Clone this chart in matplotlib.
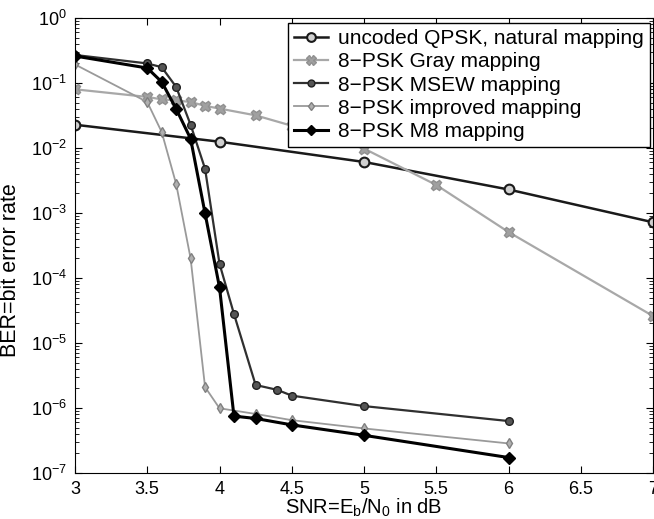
import numpy as np
import matplotlib
matplotlib.use("Agg")
import matplotlib.pyplot as plt
from matplotlib.ticker import LogLocator, NullFormatter, MultipleLocator, FormatStrFormatter

plt.rcParams["font.family"] = ["Liberation Sans", "DejaVu Sans"]
plt.rcParams["mathtext.fontset"] = "custom"
plt.rcParams["mathtext.rm"] = "Liberation Sans"
plt.rcParams["mathtext.it"] = "Liberation Sans:italic"

# SNR values (dB) and BER
snr_qpsk = [3, 4, 5, 6, 7]
ber_qpsk = [0.0228, 0.0125, 0.0061, 0.0023, 7.2e-4]

snr_gray = [3, 3.5, 3.6, 3.7, 3.8, 3.9, 4.0, 4.25, 4.5, 5, 5.5, 6, 7]
ber_gray = [0.080, 0.061, 0.056, 0.054, 0.051, 0.0445, 0.0404, 0.0318, 0.022,
            0.0098, 2.7e-3, 5.1e-4, 2.6e-5]

snr_msew = [3, 3.5, 3.6, 3.7, 3.8, 3.9, 4.0, 4.1, 4.25, 4.4, 4.5, 5, 6]
ber_msew = [0.27, 0.20, 0.175, 0.087, 0.0228, 4.8e-3, 1.66e-4, 2.8e-5,
            2.26e-6, 1.9e-6, 1.55e-6, 1.07e-6, 6.3e-7]

snr_impr = [3, 3.5, 3.6, 3.7, 3.8, 3.9, 4.0, 4.25, 4.5, 5, 6]
ber_impr = [0.193, 0.051, 0.0176, 2.8e-3, 2.0e-4, 2.1e-6, 9.9e-7, 8.1e-7,
            6.5e-7, 4.85e-7, 2.85e-7]

snr_m8 = [3, 3.5, 3.6, 3.7, 3.8, 3.9, 4.0, 4.1, 4.25, 4.5, 5, 6]
ber_m8 = [0.26, 0.17, 0.104, 0.040, 0.0139, 9.9e-4, 7.2e-5, 7.5e-7, 6.9e-7,
          5.5e-7, 3.8e-7, 1.73e-7]

fig = plt.figure(figsize=(6.54, 5.19), dpi=100)
ax = fig.add_axes([75 / 654, 1 - 473 / 519, 578 / 654, 455 / 519])

ax.semilogy(snr_qpsk, ber_qpsk, color="#1a1a1a", lw=1.8, marker="o", ms=7,
            mfc="#d0d0d0", mec="#1a1a1a", mew=1.5, label="uncoded QPSK, natural mapping")
ax.semilogy(snr_gray, ber_gray, color="#a8a8a8", lw=1.6, marker="X", ms=7.5,
            mfc="#a0a0a0", mec="#909090", label="8\u2212PSK Gray mapping")
ax.semilogy(snr_msew, ber_msew, color="#303030", lw=1.6, marker="o", ms=5.5,
            mfc="#555555", mec="#202020", label="8\u2212PSK MSEW mapping")
ax.semilogy(snr_impr, ber_impr, color="#9a9a9a", lw=1.3, marker="d", ms=5,
            mfc="#b0b0b0", mec="#808080", label="8\u2212PSK improved mapping")
ax.semilogy(snr_m8, ber_m8, color="black", lw=2.2, marker="D", ms=6,
            mfc="black", mec="black", label="8\u2212PSK M8 mapping")

ax.set_xlim(3, 7)
ax.set_ylim(1e-7, 1)
ax.xaxis.set_major_locator(MultipleLocator(0.5))
ax.xaxis.set_major_formatter(FormatStrFormatter("%g"))
ax.yaxis.set_major_locator(LogLocator(base=10, numticks=20))
ax.yaxis.set_minor_locator(LogLocator(base=10, subs=np.arange(2, 10), numticks=100))
ax.yaxis.set_minor_formatter(NullFormatter())
ax.tick_params(which="both", direction="in", top=True, right=True, labelsize=13)
ax.tick_params(which="major", length=5, pad=6)
ax.tick_params(which="minor", length=3)

ax.set_xlabel(r"SNR=E$_{\mathrm{b}}$/N$_{\mathrm{0}}$ in dB", fontsize=14.5, labelpad=-1)
ax.set_ylabel("BER=bit error rate", fontsize=15.5)
ax.yaxis.set_label_coords(-0.094, 0.446)

leg = ax.legend(loc="upper right", bbox_to_anchor=(0.995, 0.989), borderaxespad=0,
                fontsize=15, fancybox=False, framealpha=1, edgecolor="black",
                handlelength=1.6, handletextpad=0.5, labelspacing=0.2,
                borderpad=0.3, markerscale=0.9)
leg.get_frame().set_linewidth(1.0)

fig.savefig("out.png", dpi=100)
